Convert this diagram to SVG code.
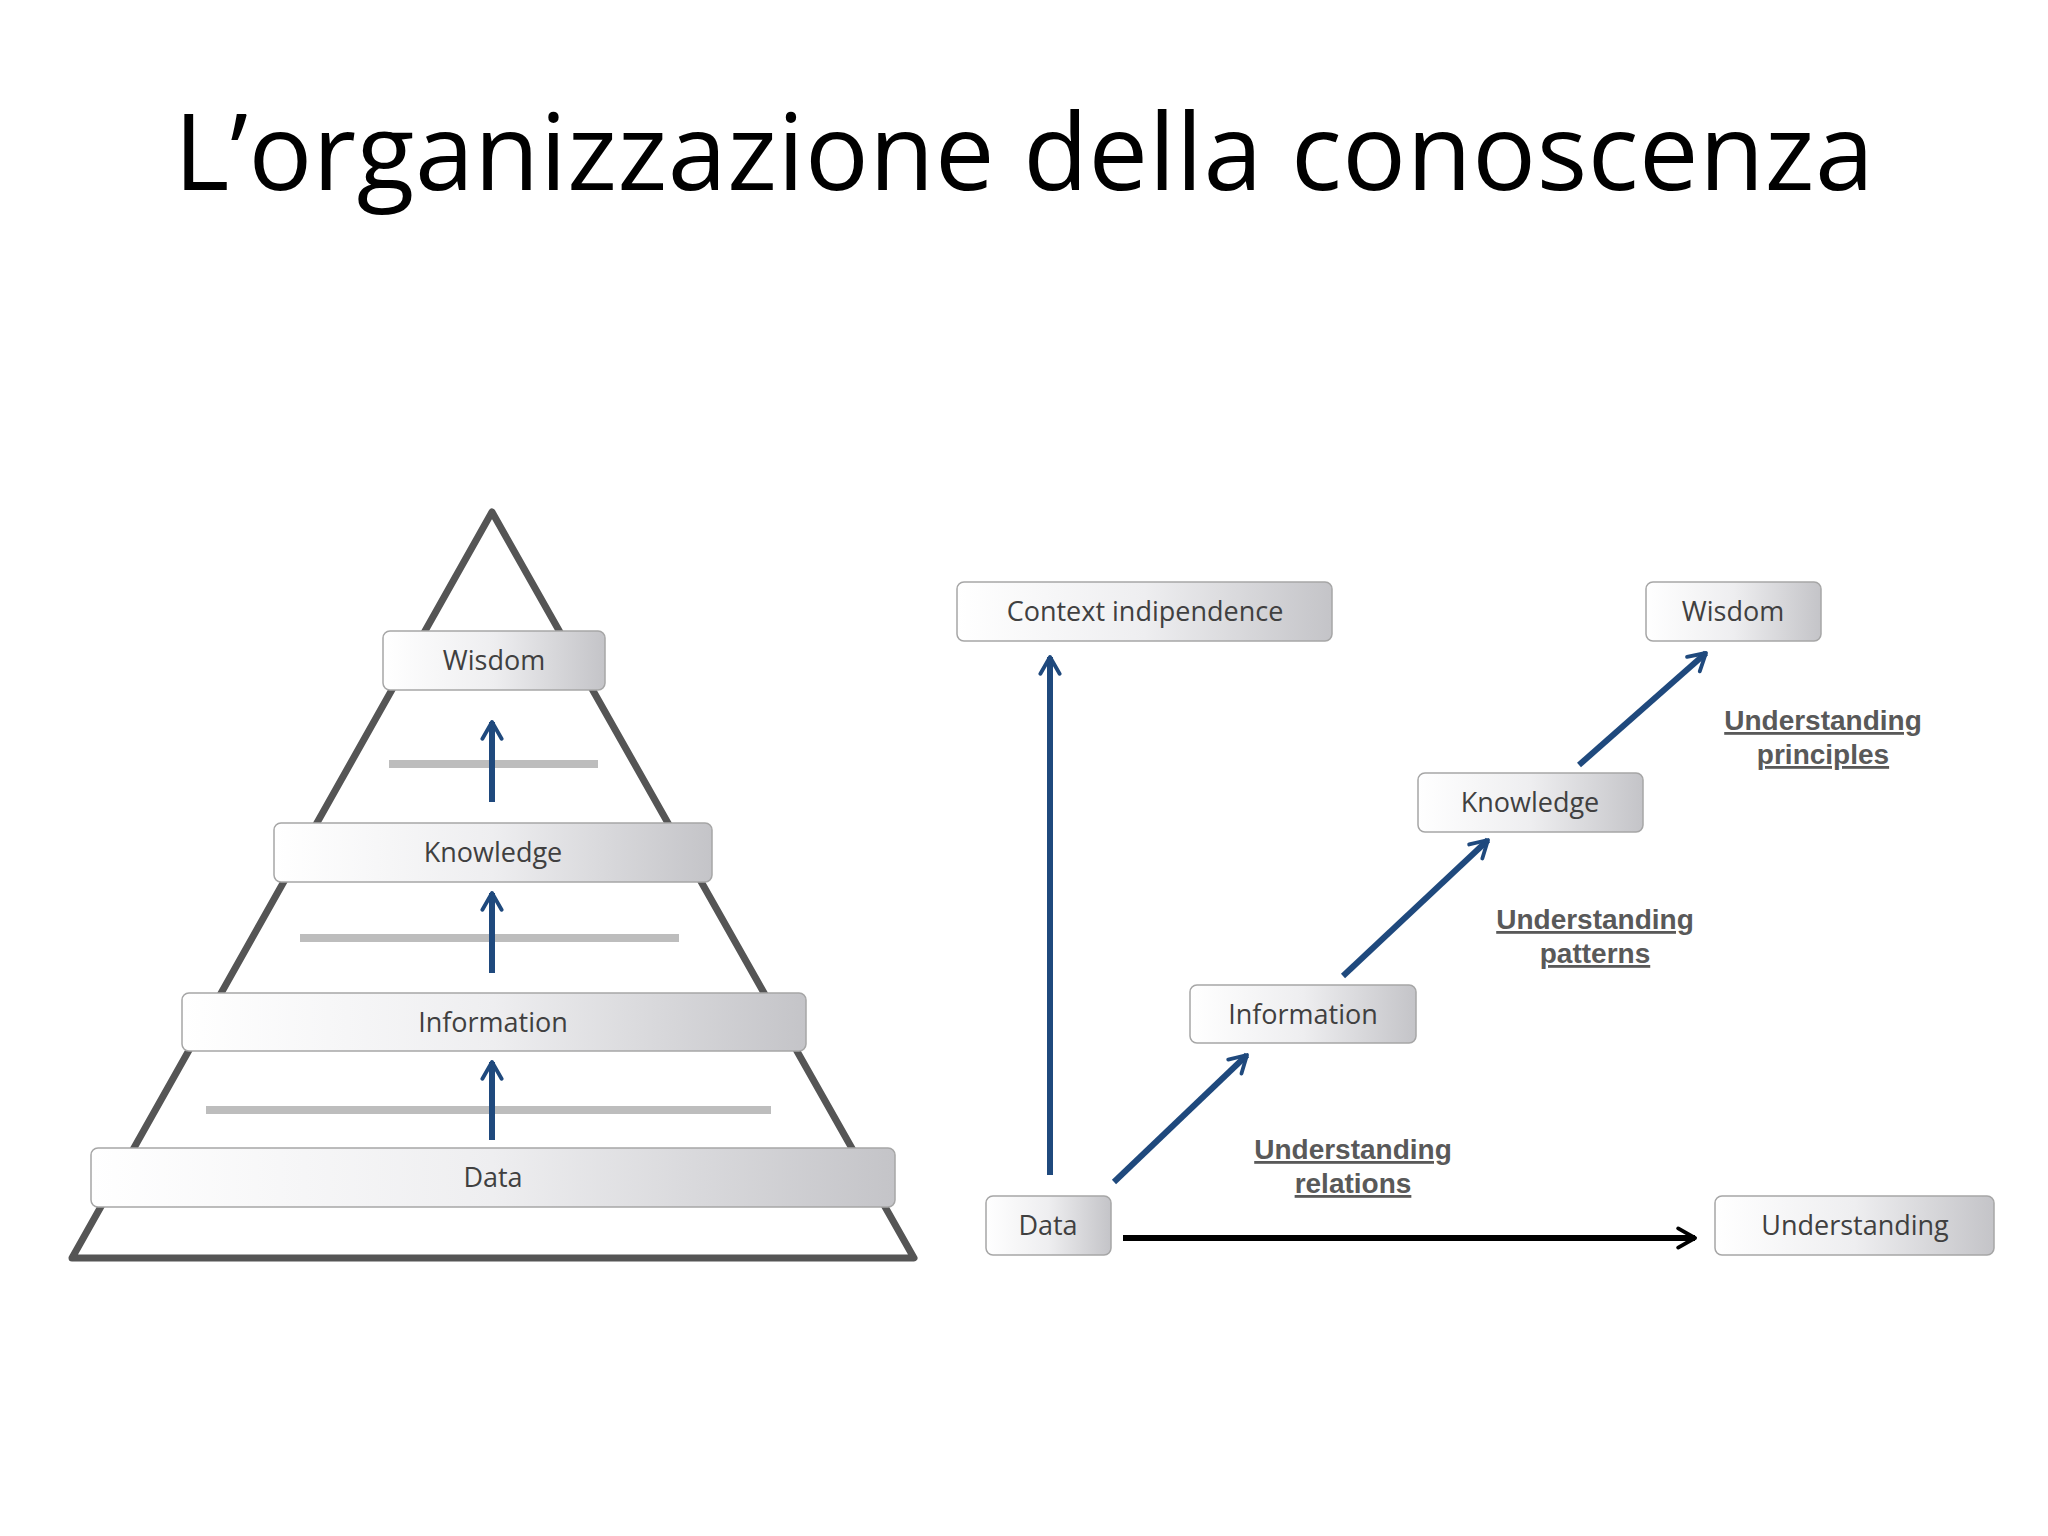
<svg xmlns="http://www.w3.org/2000/svg" width="2048" height="1536" viewBox="0 0 2048 1536">
<defs>
<linearGradient id="g" x1="0" y1="0" x2="1" y2="0"><stop offset="0" stop-color="#ffffff"/><stop offset="0.5" stop-color="#eeeef0"/><stop offset="1" stop-color="#c4c4c8"/></linearGradient>
<marker id="bh" viewBox="0 0 10 10" refX="8" refY="5" markerWidth="4" markerHeight="4" orient="auto" markerUnits="strokeWidth"><path d="M1,1 L8,5 L1,9" fill="none" stroke="#1f497d" stroke-width="1.6" stroke-linecap="round" stroke-linejoin="round"/></marker>
<marker id="kh" viewBox="0 0 10 10" refX="8" refY="5" markerWidth="4" markerHeight="4" orient="auto" markerUnits="strokeWidth"><path d="M1,1 L8,5 L1,9" fill="none" stroke="#000" stroke-width="1.6" stroke-linecap="round" stroke-linejoin="round"/></marker>
</defs>
<style>
.box{fill:url(#g);stroke:#a6a6a6;stroke-width:1.5}
.bt{font-family:"Open Sans",sans-serif;font-size:27px;fill:#404040;text-anchor:middle}
.lb{font-family:"Liberation Sans",sans-serif;font-weight:bold;font-size:28px;fill:#595959;text-anchor:middle;text-decoration:underline}
.ba{stroke:#1f497d;stroke-width:6;fill:none;marker-end:url(#bh)}
.gl{stroke:#bdbdbd;stroke-width:8}
</style>
<rect width="2048" height="1536" fill="#fff"/>
<text x="1024" y="190" font-family="Open Sans,sans-serif" font-size="106" text-anchor="middle" fill="#000" textLength="1700">L’organizzazione della conoscenza</text>
<polygon points="492,512 914,1258 72,1258" fill="none" stroke="#555" stroke-width="7" stroke-linejoin="round"/>
<g id="lines">
<line class="gl" x1="389" y1="764" x2="598" y2="764"/>
<line class="gl" x1="300" y1="938" x2="679" y2="938"/>
<line class="gl" x1="206" y1="1110" x2="771" y2="1110"/>
</g>
<g id="connectors">
<line class="ba" x1="492" y1="802" x2="492" y2="722"/>
<line class="ba" x1="492" y1="973" x2="492" y2="893"/>
<line class="ba" x1="492" y1="1140" x2="492" y2="1062"/>
<line class="ba" x1="1050" y1="1175" x2="1050" y2="657"/>
<line class="ba" x1="1114" y1="1182" x2="1247" y2="1055"/>
<line class="ba" x1="1343" y1="976" x2="1488" y2="840"/>
<line class="ba" x1="1579" y1="765" x2="1706" y2="653"/>
<line x1="1123" y1="1238" x2="1695" y2="1238" stroke="#000" stroke-width="6" marker-end="url(#kh)"/>
</g>
<g id="p-wisdom"><rect class="box" x="383" y="631" width="222" height="59" rx="7"/><text class="bt" x="494" y="670">Wisdom</text></g>
<g id="p-knowledge"><rect class="box" x="274" y="823" width="438" height="59" rx="7"/><text class="bt" x="493" y="862">Knowledge</text></g>
<g id="p-information"><rect class="box" x="182" y="993" width="624" height="58" rx="7"/><text class="bt" x="493" y="1032">Information</text></g>
<g id="p-data"><rect class="box" x="91" y="1148" width="804" height="59" rx="7"/><text class="bt" x="493" y="1187">Data</text></g>
<g id="context"><rect class="box" x="957" y="582" width="375" height="59" rx="7"/><text class="bt" x="1145" y="621">Context indipendence</text></g>
<g id="wisdom"><rect class="box" x="1646" y="582" width="175" height="59" rx="7"/><text class="bt" x="1733" y="621">Wisdom</text></g>
<g id="knowledge"><rect class="box" x="1418" y="773" width="225" height="59" rx="7"/><text class="bt" x="1530" y="812">Knowledge</text></g>
<g id="information"><rect class="box" x="1190" y="985" width="226" height="58" rx="7"/><text class="bt" x="1303" y="1024">Information</text></g>
<g id="data"><rect class="box" x="986" y="1196" width="125" height="59" rx="7"/><text class="bt" x="1048" y="1235">Data</text></g>
<g id="understanding"><rect class="box" x="1715" y="1196" width="279" height="59" rx="7"/><text class="bt" x="1855" y="1235">Understanding</text></g>
<g id="labels">
<text class="lb" x="1353" y="1159">Understanding</text><text class="lb" x="1353" y="1193">relations</text>
<text class="lb" x="1595" y="929">Understanding</text><text class="lb" x="1595" y="963">patterns</text>
<text class="lb" x="1823" y="730">Understanding</text><text class="lb" x="1823" y="764">principles</text>
</g>
</svg>
